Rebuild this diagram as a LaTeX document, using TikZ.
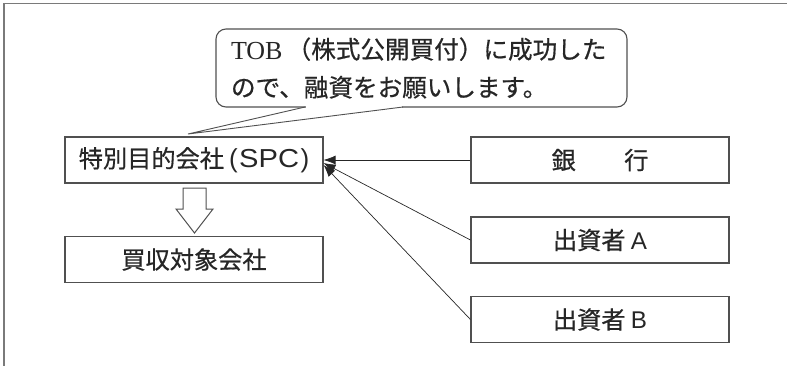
\documentclass[tikz,border=0pt]{standalone}
\usepackage{graphicx}
\usepackage{fontspec}
\newfontfamily\jp[FakeBold=0.6]{Noto Sans CJK JP}
\newfontfamily\lat{Liberation Sans}
\newfontfamily\tobfont{Liberation Serif}
\usetikzlibrary{arrows.meta}
\definecolor{boxgray}{HTML}{505050}
\definecolor{framegray}{HTML}{7A7A7A}
\definecolor{txt}{HTML}{262626}
\begin{document}
\begin{tikzpicture}[x=1pt,y=-1pt,
  box/.style={draw=boxgray, line width=1.1pt, minimum width=258pt, minimum height=46pt,
    inner sep=0pt, text=txt, font=\jp\fontsize{24.2}{28}\selectfont},
  callbox/.style={draw=boxgray, line width=1.1pt, rounded corners=10pt, minimum width=411pt,
    minimum height=78pt, text width=381pt, align=left, inner sep=0pt, text=txt,
    font=\jp\fontsize{24.6}{38}\selectfont},
  tail/.style={draw=boxgray, line width=0.9pt},
  conn/.style={draw=black!85, line width=0.7pt, -{Latex[length=12pt,width=9pt]}},
  hollow/.style={draw=boxgray, line width=1pt, fill=white, line join=miter},
  frame/.style={draw=framegray, line width=1.6pt}]
\useasboundingbox (0,0) rectangle (787,365);
\draw[frame] (4,366) -- (4,3.5) -- (788,3.5);

\node[callbox] (call) at (421.5,68) {\raisebox{-1pt}{\tobfont\fontsize{26}{30}\selectfont TOB}\,（株式公開買付）に成功した\\ので、融資をお願いします。};
\coordinate (tl) at (305,107);
\coordinate (tr) at (403,107);
\coordinate (tip) at (188,134);
\fill[white] (305.6,104) rectangle (402.4,109);
\draw[tail] (tl) -- (tip) -- (tr);

\node[box] (spc) at (194,160) {特別目的会社\hspace{5pt}{\lat\fontsize{26}{28}\selectfont(\hspace{1.5pt}\scalebox{1.12}[1]{SPC}\hspace{1.5pt})}};
\node[box] (tgt) at (194,259.5) {買収対象会社};
\node[box] (bank) at (600,160) {銀　　行};
\node[box] (inva) at (600,240) {出資者 {\lat A}};
\node[box] (invb) at (600,319.5) {出資者 {\lat B}};

\draw[hollow] (183,188) -- (206,188) -- (206,209) -- (213,209) -- (194.5,233)
  -- (176,209) -- (183,209) -- cycle;

\draw[conn] (bank.west) -- (spc.east);
\draw[conn] (inva.west) -- ([yshift=-3pt]spc.east);
\draw[conn] (invb.west) -- ([yshift=-5pt]spc.east);
\end{tikzpicture}
\end{document}
